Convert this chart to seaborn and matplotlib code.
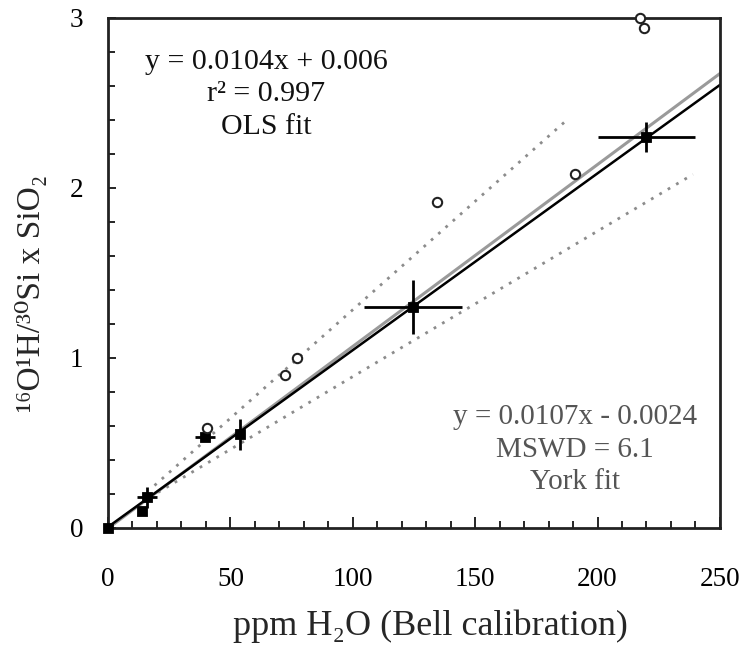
import numpy as np
import pandas as pd
import matplotlib
matplotlib.use('Agg')
import matplotlib.pyplot as plt
from matplotlib.ticker import MultipleLocator
import seaborn as sns

# calibration points with error bars (filled squares)
sq_x = [0, 13.9, 15.9, 39.6, 53.9, 124.6, 220.0]
sq_y = [0, 0.10, 0.18, 0.535, 0.55, 1.30, 2.30]
sq_xerr = [0, 0, 4, 4, 0, 20, 20]
sq_yerr = [0, 0, 0.06, 0, 0.09, 0.16, 0.09]

# other samples (open circles)
oc_x = [40.4, 72.3, 77.2, 134.4, 190.8, 217.3, 219.0]
oc_y = [0.59, 0.90, 1.00, 1.92, 2.08, 3.00, 2.94]

# fit lines (endpoints)
ols_x = [0, 250]
ols_y = [0.006, 2.606]
york_x = [0, 250]
york_y = [-0.0024, 2.673]
# confidence envelopes (dotted)
up_x = [19, 186.7]
up_y = [0.25, 2.39]
lo_x = [17, 239]
lo_y = [0.18, 2.08]

sns.set_style('ticks')
plt.rcParams['font.family'] = ['Liberation Serif', 'DejaVu Serif']

fig = plt.figure(figsize=(7.46, 6.54), dpi=100)
ax = fig.add_axes([0.1448, 0.1927, 0.965 - 0.1448, 0.9725 - 0.1927])

sns.lineplot(x=up_x, y=up_y, ax=ax, color='#8c8c8c', lw=2, linestyle=(0, (1, 2.5)))
sns.lineplot(x=lo_x, y=lo_y, ax=ax, color='#8c8c8c', lw=2, linestyle=(0, (1, 2.5)))
sns.lineplot(x=york_x, y=york_y, ax=ax, color='#9a9a9a', lw=2.2)
sns.lineplot(x=ols_x, y=ols_y, ax=ax, color='black', lw=1.8)

ax.errorbar(sq_x, sq_y, xerr=sq_xerr, yerr=sq_yerr, fmt='none', ecolor='black',
            elinewidth=2, capsize=0, zorder=4)
sns.scatterplot(x=sq_x, y=sq_y, ax=ax, marker='s', s=55, color='black',
                edgecolor='black', zorder=5, clip_on=False)
sns.scatterplot(x=oc_x, y=oc_y, ax=ax, marker='o', s=45, facecolor='white',
                edgecolor='#222222', linewidth=1.5, zorder=5, clip_on=False)

ax.text(64.5, 2.55, 'y = 0.0104x + 0.006\nr² = 0.997\nOLS fit', ha='center', va='center',
        fontsize=21.5, linespacing=1.33, color='#111111')
ax.text(190.8, 0.46, 'y = 0.0107x - 0.0024\nMSWD = 6.1\nYork fit', ha='center', va='center',
        fontsize=21, linespacing=1.33, color='#555555')

ax.set_xlim(0, 250)
ax.set_ylim(0, 3)
ax.xaxis.set_major_locator(MultipleLocator(50))
ax.xaxis.set_minor_locator(MultipleLocator(10))
ax.yaxis.set_major_locator(MultipleLocator(1))
ax.yaxis.set_minor_locator(MultipleLocator(0.2))
ax.tick_params(axis='both', which='both', direction='in', colors='black', labelsize=19.5, width=1.2)
ax.tick_params(axis='x', which='major', length=8, pad=28)
ax.tick_params(axis='x', which='minor', length=5)
ax.tick_params(axis='y', which='major', length=6, pad=18)
ax.tick_params(axis='y', which='minor', length=5)
for s in ax.spines.values():
    s.set_linewidth(2)
    s.set_color('#222222')

ax.set_xlabel('ppm H₂O (Bell calibration)', fontsize=26)
ax.xaxis.set_label_coords(0.527, -0.16)
ax.set_ylabel('¹⁶O¹H/³⁰Si x SiO₂', fontsize=24)
ax.yaxis.set_label_coords(-0.1, 0.46)

fig.savefig('out.png', dpi=100)
